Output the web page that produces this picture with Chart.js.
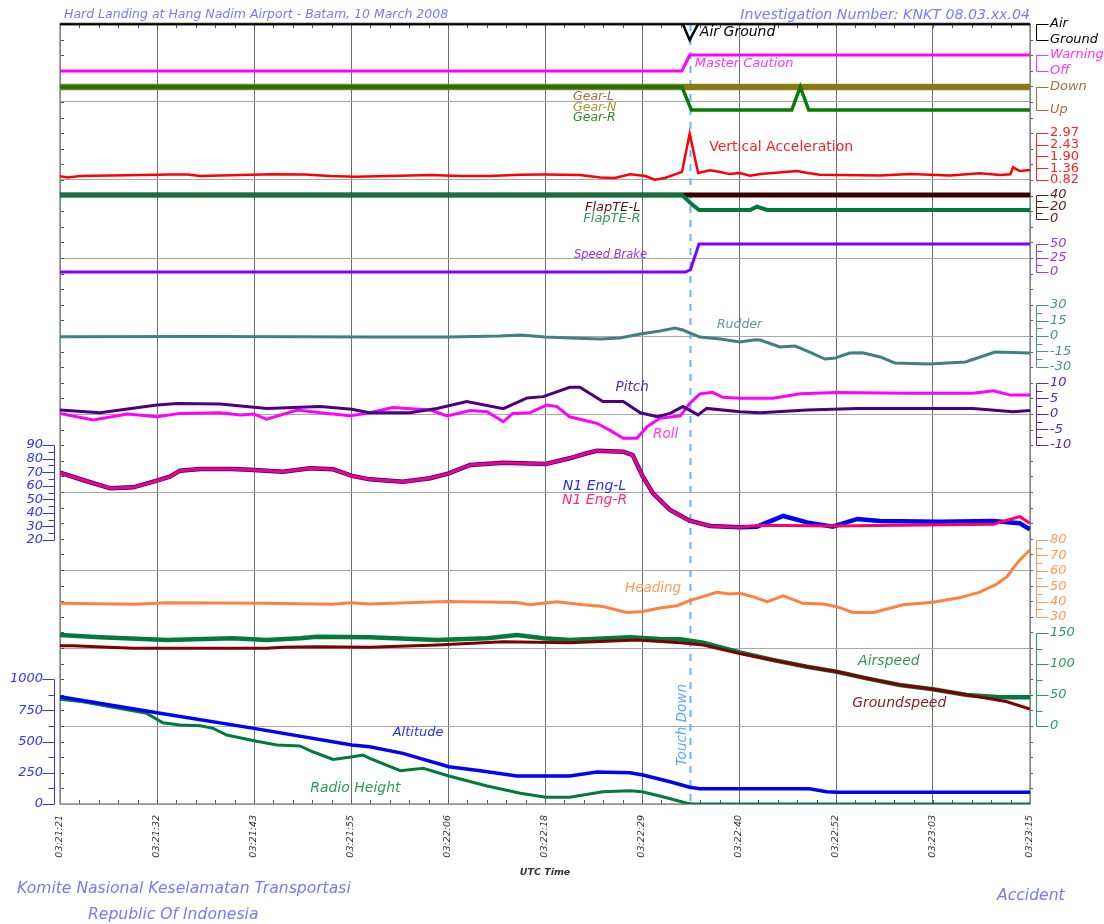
<!DOCTYPE html>
<html>
<head>
<meta charset="utf-8">
<title>Hard Landing at Hang Nadim Airport - FDR plot</title>
<script src="https://cdn.jsdelivr.net/npm/chart.js@4.4.1/dist/chart.umd.min.js"></script>
<style>
  body { margin: 0; background: #ffffff; }
  #wrap { position: relative; width: 1104px; height: 924px; overflow: hidden; }
  #fdr { position: absolute; left: 0; top: 0; }
  .cap { position: absolute; font-family: "DejaVu Sans", Verdana, sans-serif; font-style: italic; color: #7878ff; white-space: nowrap; }
</style>
</head>
<body>
<div id="wrap">
  <canvas id="fdr" width="1104" height="924"></canvas>
  <div class="cap" style="left:64px; top:6px; font-size:12.5px; line-height:16px;">Hard Landing at Hang Nadim Airport - Batam, 10 March 2008</div>
  <div class="cap" style="right:74px; top:6px; font-size:14.2px; line-height:16px;">Investigation Number: KNKT 08.03.xx.04</div>
  <div class="cap" style="left:17px; top:879px; font-size:15.6px; line-height:18px;">Komite Nasional Keselamatan Transportasi</div>
  <div class="cap" style="left:88px; top:905px; font-size:15.6px; line-height:18px;">Republic Of Indonesia</div>
  <div class="cap" style="left:997px; top:886px; font-size:15.6px; line-height:18px;">Accident</div>
</div>
<script>
// Zeit in Sekunden ab 03:21:21 UTC
const timeTicks = [0, 11.4, 22.8, 34.2, 45.6, 57, 68.4, 79.8, 91.2, 102.6, 114];
const timeLabels = ['03:21:21', '03:21:32', '03:21:43', '03:21:55', '03:22:06', '03:22:18',
                    '03:22:29', '03:22:40', '03:22:52', '03:23:03', '03:23:15'];
const touchDownT = 74.0;

// diskrete Parameter
const airGndT = [0, 73.2, 74.0, 75.0, 114];
const airGndV = [1, 1, 0, 1, 1];
const cautionT = [0, 73.1, 74.0, 114];
const cautionV = [0, 0, 1, 1];
const gearLT = [0, 114];
const gearLV = [1, 1];
const gearNT = [0, 114];
const gearNV = [1, 1];
const gearRT = [0, 73.1, 74.2, 86.0, 87.0, 88.0, 114];
const gearRV = [1, 1, 0, 0, 1, 0, 0];

// Vertikalbeschleunigung (g)
const vertAccT = [0, 0.9, 2.4, 13.2, 15, 16.5, 24.9, 28.8, 31.7, 34.7, 40, 43.5, 47, 50.5, 54.1, 57,
                  61.1, 63.5, 65.2, 67, 68.8, 69.9, 71.1, 73.1, 74, 75, 76.4, 77.6, 78.7, 79.9, 81.1,
                  82.3, 86.6, 87.9, 89.3, 96.4, 99.9, 104.6, 108.1, 110.5, 111.7, 112, 112.8, 114];
const vertAccV = [0.99, 0.93, 1.0, 1.07, 1.07, 1.0, 1.08, 1.07, 1.0, 0.97, 1.02, 1.05, 1.0, 1.0, 1.06, 1.07,
                  1.05, 0.93, 0.91, 1.08, 1.0, 0.83, 0.91, 1.19, 2.94, 1.14, 1.26, 1.19, 1.09, 1.14, 1.02,
                  1.09, 1.23, 1.14, 1.06, 1.03, 1.09, 1.03, 1.13, 1.05, 1.08, 1.40, 1.23, 1.28];

// Klappen, Speedbrake
const flapLT = [0, 114];
const flapLV = [40, 40];
const flapRT = [0, 73.1, 74.3, 75.1, 81.1, 81.9, 83.1, 114];
const flapRV = [40, 40, 24, 15, 15, 20.5, 15, 15];
const sbT = [0, 73.5, 74.1, 75.1, 114];
const sbV = [0, 0, 4, 50, 50];

// Seitenruder
const rudderT = [0, 16.5, 28.2, 36.4, 45.6, 51.7, 54.1, 57, 59.9, 63.5, 65.8, 68.2, 70.5, 72.3, 73.2, 75.2,
                 77.6, 79.9, 81.7, 82.3, 84.6, 86.4, 88.1, 89.9, 91.1, 92.8, 94.3, 96.4, 98.1, 102.2,
                 106.4, 109.9, 114];
const rudderV = [-0.7, -0.5, -0.8, -1, -1, 0, 1, -1, -2, -2.9, -1.9, 1.9, 4.8, 7.7, 5.8, -1,
                 -2.9, -5.8, -3.6, -3.9, -10.6, -9.7, -15.5, -22.3, -21.3, -16.5, -16.2, -20.3, -26.1, -27.1,
                 -25.2, -15.5, -16.5];

// Lage
const pitchT = [0, 4.7, 11.4, 13.8, 18.8, 22.8, 24.3, 30.6, 34.3, 36.4, 41.1, 44.3, 47.8, 52.1, 54.9,
                56.8, 59.9, 61.1, 63.8, 66.2, 68.2, 70.2, 71.7, 73.2, 75.0, 76.0, 79.9, 82.3, 87.8, 93.7,
                107.3, 112, 114];
const pitchV = [1.3, 0.4, 2.9, 3.4, 3.2, 2.2, 1.8, 2.4, 1.5, 0.4, 0.4, 1.8, 4.0, 1.7, 5.2,
                5.6, 8.6, 8.6, 4.0, 4.0, 0.4, -0.9, 0.2, 2.4, -0.3, 1.8, 0.7, 0.4, 1.3, 1.8,
                1.8, 0.7, 1.1];
const rollT = [0, 3.9, 7.9, 11.4, 14.1, 18.8, 21.2, 22.8, 24.3, 27.9, 30.6, 34.1, 36.4, 39.1, 43.5,
               45.5, 48.2, 50.2, 52.1, 53.2, 55.2, 57.2, 58.4, 59.9, 63.1, 64.6, 66.2, 67.8, 69, 70.5,
               72.9, 74, 75.2, 76.7, 77.9, 79.9, 83.8, 87, 91.3, 99.5, 107.3, 109.7, 111.7, 114];
const rollV = [0.2, -1.9, 0, -0.9, 0.2, 0.4, -0.3, 0, -1.7, 1.3, 0.4, -0.6, 0.4, 2.1, 1.3,
               -0.6, 1.1, 0.7, -2.5, 0.2, 0.4, 2.9, 2.4, -0.9, -3.0, -5.2, -7.8, -7.8, -4.1, -1.4,
               -0.6, 3.4, 6.5, 7.0, 5.4, 5.1, 5.1, 6.5, 6.9, 6.7, 6.7, 7.5, 6.1, 6.1];

// N1 (%)
const n1LT = [0, 2.7, 5.9, 8.6, 11.4, 12.9, 14.1, 16.5, 20.3, 22.8, 26.2, 29.4, 32.1, 34.3, 36.4, 40.3,
              43.5, 45.7, 48.2, 52.1, 57.1, 59.9, 61.9, 63.1, 66.2, 67.3, 68.5, 69.7, 71.7, 74.0, 76.4,
              79.9, 81.9, 85.0, 87.8, 90.8, 93.7, 96.4, 103.4, 109.7, 112.8, 114];
const n1LV = [69.6, 64.2, 58.1, 58.8, 63.7, 66.6, 71.1, 72.3, 72.3, 71.6, 70.3, 72.8, 72.1, 67.2, 64.7, 63,
              65.5, 69.1, 75.3, 77, 76, 80.2, 83.9, 85.8, 85.1, 82.6, 66.6, 54.4, 42.1, 34.2, 30.3,
              29.4, 29.8, 37.7, 33, 29.8, 35.5, 34, 33.5, 34, 32.3, 27.9];
const n1RT = [0, 2.7, 5.9, 8.6, 11.4, 12.9, 14.1, 16.5, 20.3, 22.8, 26.2, 29.4, 32.1, 34.3, 36.4, 40.3,
              43.5, 45.7, 48.2, 52.1, 57.1, 59.9, 61.9, 63.1, 66.2, 67.3, 68.5, 69.7, 71.7, 74.0, 76.4,
              79.9, 82.3, 90.8, 109.7, 112.8, 114];
const n1RV = [69.6, 64.2, 58.1, 58.8, 63.7, 66.6, 71.1, 72.3, 72.3, 71.6, 70.3, 72.8, 72.1, 67.2, 64.7, 63,
              65.5, 69.1, 75.3, 77, 76, 80.2, 83.9, 85.8, 85.1, 82.6, 66.6, 54.4, 42.1, 34.2, 30.3,
              29.4, 30.8, 30.3, 31.6, 37.2, 32.3];

// Kurs
const headingT = [0, 8.6, 12.6, 24.3, 32.1, 34.1, 36.4, 45.5, 53.7, 55.2, 58.4, 61.5, 63.8, 66.6, 68.5,
                  70.5, 72.5, 74, 77.2, 78.7, 79.9, 81.4, 83.1, 85, 87.3, 89.7, 91.3, 93.2, 95.6, 99.1,
                  102.6, 105.8, 108.1, 110.1, 111.3, 112, 112.8, 114];
const headingV = [38.9, 38.3, 39.3, 38.9, 38.3, 39.3, 38.5, 40.1, 39.4, 37.9, 39.9, 37.9, 36.8, 32.9, 33.6,
                  35.8, 37.3, 40.6, 46.1, 45, 45.4, 43.2, 40, 43.7, 38.9, 38.5, 36.7, 32.9, 32.9, 37.9,
                  39.6, 42.6, 46.1, 51.4, 56.2, 61.6, 67, 73.5];

// Geschwindigkeiten (kt)
const airspeedT = [0, 4.7, 12.6, 20.3, 24.3, 28.2, 30.2, 36.4, 44.3, 50.2, 53.7, 56.8, 59.9, 67, 70.5,
                   72.9, 75.6, 79.9, 83.8, 87.8, 91.3, 94.8, 98.7, 102.6, 106.6, 110.5, 114];
const airspeedV = [146.8, 143, 138.7, 141.4, 138.7, 141.4, 144, 143, 138.7, 141.4, 146.8, 141.4, 138.7, 143, 140.3,
                   139.8, 134.4, 118.5, 106.5, 95.6, 87.6, 76.9, 66.1, 59.2, 50, 46.3, 46.3];
const groundspeedT = [0, 1.5, 8.6, 24.3, 26.2, 30.2, 36.4, 44.3, 52.1, 59.9, 67.8, 72.9, 75.6, 79.9, 83.8,
                      87.8, 91.3, 94.8, 98.7, 102.6, 106.6, 109.7, 111.3, 114];
const groundspeedV = [129.5, 129.5, 125.3, 125.3, 127, 128, 127, 130.6, 136, 134.4, 138.7, 134.4, 130.6, 117, 106.5,
                      95.6, 87.6, 76.9, 66.1, 59.2, 50, 43.1, 39.2, 27.4];

// Hoehen (ft)
const altitudeT = [0, 11.4, 22.8, 34.3, 36.4, 40.3, 45.7, 49.4, 53.7, 59.9, 63.1, 67, 68.5, 71.7, 74,
                   75.2, 88.1, 90.1, 91.3, 114];
const altitudeV = [858, 730, 605, 472, 458, 405, 298, 266, 224, 224, 256, 250, 232, 178, 134,
                   122, 122, 98, 94, 94];
const radioT = [0, 2.7, 5.9, 10.2, 12.1, 14.1, 16.5, 18, 19.6, 22.8, 25.5, 28.2, 29.7, 32.1, 34.4, 35.6,
                36.4, 40, 42.7, 45.7, 50.2, 54.1, 57.1, 59.9, 63.8, 67, 68.4, 70.5, 73.7, 74.4, 114];
const radioV = [838, 818, 778, 725, 650, 632, 626, 605, 552, 506, 472, 464, 418, 357, 378, 392,
                365, 266, 285, 224, 144, 86, 54, 54, 98, 106, 98, 64, 6, 0, 0];

const FONT = '"DejaVu Sans", Verdana, sans-serif';
const PLOT_TOP = 24, PLOT_BOTTOM = 804;
Chart.defaults.font.family = FONT;

// Achsen: jedes Band bekommt eine eigene y-Achse ueber die volle Hoehe
const axes = [
  { id: 'yAG',   side: 'right', top: [1, 24],     bot: [0, 40],     ticks: [1, 0], names: ['Air', 'Ground'], color: '#000000' },
  { id: 'yMC',   side: 'right', top: [1, 55],     bot: [0, 71],     ticks: [1, 0], names: ['Warning', 'Off'], color: '#ff33ff' },
  { id: 'yGear', side: 'right', top: [1, 87],     bot: [0, 110],    ticks: [1, 0], names: ['Down', 'Up'], color: '#a0703a' },
  { id: 'yVA',   side: 'right', top: [2.97, 133], bot: [0.82, 180], ticks: [2.97, 2.43, 1.90, 1.36, 0.82], color: '#ff2020', upright: true, fmt: v => v.toFixed(2) },
  { id: 'yFlap', side: 'right', top: [40, 195],   bot: [0, 219],    ticks: [40, 20, 0], minor: [30, 10], color: '#5a1a1a' },
  { id: 'ySB',   side: 'right', top: [50, 244],   bot: [0, 272],    ticks: [50, 25, 0], minor: [37.5, 12.5], color: '#9933ff' },
  { id: 'yRud',  side: 'right', top: [30, 305],   bot: [-30, 367],  ticks: [30, 15, 0, -15, -30], minor: [22.5, 7.5, -7.5, -22.5], color: '#4f8f8f' },
  { id: 'yPR',   side: 'right', top: [10, 383],   bot: [-10, 445],  ticks: [10, 5, 0, -5, -10], minor: [7.5, 2.5, -2.5, -7.5], color: '#5a2a9a' },
  { id: 'yN1',   side: 'left',  top: [90, 445],   bot: [20, 540],   ticks: [90, 80, 70, 60, 50, 40, 30, 20], minor: [85, 75, 65, 55, 45, 35, 25], color: '#3333ff' },
  { id: 'yHdg',  side: 'right', top: [80, 540],   bot: [30, 617],   ticks: [80, 70, 60, 50, 40, 30], minor: [75, 65, 55, 45, 35], color: '#ff9955' },
  { id: 'ySpd',  side: 'right', top: [150, 633],  bot: [0, 726],    ticks: [150, 100, 50, 0], minor: [125, 75, 25], color: '#2e9a5e' },
  { id: 'yAlt',  side: 'left',  top: [1000, 679], bot: [0, 804],    ticks: [1000, 750, 500, 250, 0], minor: [875, 625, 375, 125], color: '#3333ff' }
];

function bandAxis(a) {
  const k = (a.top[0] - a.bot[0]) / (a.bot[1] - a.top[1]);
  return {
    type: 'linear',
    position: a.side,
    min: a.bot[0] - (PLOT_BOTTOM - a.bot[1]) * k,
    max: a.top[0] + (a.top[1] - PLOT_TOP) * k,
    grid: { display: false, drawTicks: false },
    border: { display: false },
    afterBuildTicks: s => { s.ticks = a.ticks.map(v => ({ value: v })); },
    afterFit: s => { s.width = 0; s.paddingTop = 0; s.paddingBottom = 0; },
    ticks: {
      autoSkip: false,
      padding: a.side === 'right' ? 20 : 17,
      color: a.color,
      font: { family: FONT, size: 13, style: a.upright ? 'normal' : 'italic' },
      callback: (v, i) => a.names ? a.names[i] : (a.fmt ? a.fmt(v) : String(v))
    }
  };
}

const scales = {
  x: {
    type: 'linear',
    position: 'bottom',
    min: 0,
    max: 114,
    grid: { color: '#6e6e6e', lineWidth: 1, drawTicks: false },
    border: { display: false },
    afterBuildTicks: s => { s.ticks = timeTicks.map(v => ({ value: v })); },
    afterFit: s => { s.height = 76; s.paddingLeft = 0; s.paddingRight = 0; },
    ticks: {
      autoSkip: false, minRotation: 90, maxRotation: 90, padding: 11, color: '#333333',
      font: { size: 9.5, style: 'italic' },
      callback: (v, i) => timeLabels[i]
    },
    title: {
      display: true, text: 'UTC Time', color: '#333333',
      font: { size: 9.5, style: 'italic', weight: 'bold' },
      padding: { top: 0, bottom: 2 }
    }
  },
  // nur fuer die horizontalen Gitterlinien
  yGrid: {
    type: 'linear',
    position: 'left',
    min: 0,
    max: 10,
    grid: { color: '#a8a8a8', lineWidth: 1, drawTicks: false },
    border: { display: false },
    ticks: { display: false },
    afterBuildTicks: s => { s.ticks = [0, 1, 2, 3, 4, 5, 6, 7, 8, 9, 10].map(v => ({ value: v })); },
    afterFit: s => { s.width = 0; s.paddingTop = 0; s.paddingBottom = 0; }
  }
};
axes.forEach(a => { scales[a.id] = bandAxis(a); });

function pts(ts, vs) { return ts.map((t, i) => ({ x: t, y: vs[i] })); }
function line(label, ts, vs, axis, color, width, order) {
  return { label, data: pts(ts, vs), yAxisID: axis, xAxisID: 'x', borderColor: color,
           borderWidth: width, pointRadius: 0, tension: 0, fill: false, order: order || 1 };
}

const datasets = [
  line('Air Ground', airGndT, airGndV, 'yAG', '#000000', 2.5),
  line('Master Caution', cautionT, cautionV, 'yMC', '#ff00ff', 3),
  line('Gear-R', gearRT, gearRV, 'yGear', '#0a7a0a', 3.5, 1),
  line('Gear-N', gearNT, gearNV, 'yGear', '#857a0a', 5, 2),
  line('Gear-L', gearLT, gearLV, 'yGear', '#a0703a', 6.5, 3),
  line('Vertical Acceleration', vertAccT, vertAccV, 'yVA', '#ff0000', 2.5),
  line('FlapTE-R', flapRT, flapRV, 'yFlap', '#007a3a', 4, 1),
  line('FlapTE-L', flapLT, flapLV, 'yFlap', '#3a0000', 5, 2),
  line('Speed Brake', sbT, sbV, 'ySB', '#8000ff', 3),
  line('Rudder', rudderT, rudderV, 'yRud', '#408080', 3),
  line('Pitch', pitchT, pitchV, 'yPR', '#4b0082', 3, 1),
  line('Roll', rollT, rollV, 'yPR', '#ff00ff', 3, 2),
  line('N1 Eng-R', n1RT, n1RV, 'yN1', '#ff0066', 3, 1),
  line('N1 Eng-L', n1LT, n1LV, 'yN1', '#0000ff', 4.5, 2),
  line('Heading', headingT, headingV, 'yHdg', '#ff8040', 3),
  line('Groundspeed', groundspeedT, groundspeedV, 'ySpd', '#800000', 3, 1),
  line('Airspeed', airspeedT, airspeedV, 'ySpd', '#007a3d', 4.5, 2),
  line('Altitude', altitudeT, altitudeV, 'yAlt', '#0000ff', 3.5, 1),
  line('Radio Height', radioT, radioV, 'yAlt', '#007a3d', 3, 2)
];

// Beschriftungen der Spuren: Text, Farbe, Zeit, Achse, Wert, Groesse, Stil
const traceLabels = [
  ['Air Ground', '#000000', 75.2, 'yAG', 0.5, 14, 'italic'],
  ['Master Caution', '#ff33ff', 74.6, 'yMC', 0.44, 13, 'italic'],
  ['Gear-L', '#a0703a', 60.3, 'yGear', 0.565, 12.5, 'italic'],
  ['Gear-N', '#9a9a30', 60.3, 'yGear', 0.087, 12.5, 'italic'],
  ['Gear-R', '#2a8a2a', 60.3, 'yGear', -0.35, 12.5, 'italic'],
  ['Vertical Acceleration', '#ff2020', 76.3, 'yVA', 2.33, 14, 'normal'],
  ['FlapTE-L', '#5a1010', 61.7, 'yFlap', 18.3, 13, 'italic'],
  ['FlapTE-R', '#2a9a5a', 61.5, 'yFlap', 0, 13, 'italic'],
  ['Speed Brake', '#9a30ff', 60.4, 'ySB', 31, 11.5, 'italic'],
  ['Rudder', '#5a9a9a', 77.2, 'yRud', 10.6, 12.5, 'italic'],
  ['Pitch', '#5a2a9a', 65.3, 'yPR', 8.4, 13.5, 'italic'],
  ['Roll', '#ff33ff', 69.7, 'yPR', -6.5, 13.5, 'italic'],
  ['N1 Eng-L', '#2a2aff', 59.1, 'yN1', 59.8, 14, 'italic'],
  ['N1 Eng-R', '#ff2a7a', 59.0, 'yN1', 49.5, 14, 'italic'],
  ['Heading', '#ff9a5a', 66.4, 'yHdg', 48.2, 13.5, 'italic'],
  ['Airspeed', '#2a9a5a', 93.8, 'ySpd', 104.8, 14, 'italic'],
  ['Groundspeed', '#8a1a1a', 93.1, 'ySpd', 37.1, 14, 'italic'],
  ['Altitude', '#2a2aff', 39.1, 'yAlt', 568, 13, 'italic'],
  ['Radio Height', '#2a9a5a', 29.4, 'yAlt', 128, 14, 'italic']
];

// Achsen ohne Breite: Beschriftung darf in den Rand ragen
const axisWidthPlugin = {
  id: 'axisWidth',
  afterLayout(chart) {
    axes.forEach(a => {
      const s = chart.scales[a.id];
      if (a.side === 'right') s.right = chart.width; else s.left = 0;
    });
  }
};

const framePlugin = {
  id: 'frame',
  beforeDatasetsDraw(chart) {
    const { ctx, chartArea: c, scales: sc } = chart;
    ctx.save();
    // Aufsetzpunkt
    const xt = Math.round(sc.x.getPixelForValue(touchDownT)) + 0.5;
    ctx.strokeStyle = '#66b3ff';
    ctx.lineWidth = 2;
    ctx.setLineDash([7, 7]);
    ctx.beginPath(); ctx.moveTo(xt, c.top); ctx.lineTo(xt, c.bottom); ctx.stroke();
    ctx.setLineDash([]);
    // kleine Teilstriche am Rahmen
    ctx.strokeStyle = '#555555';
    ctx.lineWidth = 1;
    ctx.beginPath();
    for (let i = 1; i < 50; i++) {
      const x = Math.round(sc.x.getPixelForValue(i * 114 / 50)) + 0.5;
      ctx.moveTo(x, c.top); ctx.lineTo(x, c.top + 4);
      ctx.moveTo(x, c.bottom); ctx.lineTo(x, c.bottom - 4);
      const y = Math.round(sc.yGrid.getPixelForValue(i / 5)) + 0.5;
      ctx.moveTo(c.left, y); ctx.lineTo(c.left + 4, y);
      ctx.moveTo(c.right, y); ctx.lineTo(c.right + 3, y);
    }
    ctx.stroke();
    ctx.strokeStyle = '#8f8f8f';
    ctx.lineWidth = 1.5;
    ctx.strokeRect(c.left, c.top, c.right - c.left, c.bottom - c.top);
    ctx.strokeStyle = '#1a1a1a';
    ctx.lineWidth = 2.5;
    ctx.beginPath(); ctx.moveTo(c.left, c.top); ctx.lineTo(c.right, c.top); ctx.stroke();
    ctx.restore();
  },
  afterDatasetsDraw(chart) {
    const { ctx, scales: sc } = chart;
    ctx.save();
    ctx.textAlign = 'left';
    ctx.textBaseline = 'middle';
    traceLabels.forEach(([txt, col, t, axis, v, size, style]) => {
      ctx.font = style + ' ' + size + 'px ' + FONT;
      ctx.fillStyle = col;
      ctx.fillText(txt, sc.x.getPixelForValue(t), sc[axis].getPixelForValue(v));
    });
    // "Touch Down" senkrecht
    ctx.translate(sc.x.getPixelForValue(73.2), sc.yAlt.getPixelForValue(632));
    ctx.rotate(-Math.PI / 2);
    ctx.textAlign = 'center';
    ctx.font = 'italic 13.5px ' + FONT;
    ctx.fillStyle = '#5aaaff';
    ctx.fillText('Touch Down', 0, 0);
    ctx.restore();
  },
  afterDraw(chart) {
    // Klammern der Achsen
    const { ctx, chartArea: c } = chart;
    ctx.save();
    ctx.lineWidth = 1;
    axes.forEach(a => {
      const s = chart.scales[a.id];
      const dir = a.side === 'right' ? 1 : -1;
      const x0 = (a.side === 'right' ? c.right + 6 : c.left - 6) + 0.5;
      const ys = a.ticks.map(v => Math.round(s.getPixelForValue(v)) + 0.5);
      ctx.strokeStyle = a.color;
      ctx.beginPath();
      ctx.moveTo(x0, Math.min(...ys)); ctx.lineTo(x0, Math.max(...ys));
      ys.forEach(y => { ctx.moveTo(x0, y); ctx.lineTo(x0 + dir * 12, y); });
      (a.minor || []).forEach(v => {
        const y = Math.round(s.getPixelForValue(v)) + 0.5;
        ctx.moveTo(x0, y); ctx.lineTo(x0 + dir * 6, y);
      });
      ctx.stroke();
    });
    ctx.restore();
  }
};

new Chart(document.getElementById('fdr'), {
  type: 'line',
  data: { datasets },
  options: {
    responsive: false,
    animation: false,
    devicePixelRatio: 1,
    layout: { padding: { left: 60, right: 74, top: 24, bottom: 44 } },
    plugins: { legend: { display: false }, tooltip: { enabled: false } },
    scales
  },
  plugins: [axisWidthPlugin, framePlugin]
});
</script>
</body>
</html>
